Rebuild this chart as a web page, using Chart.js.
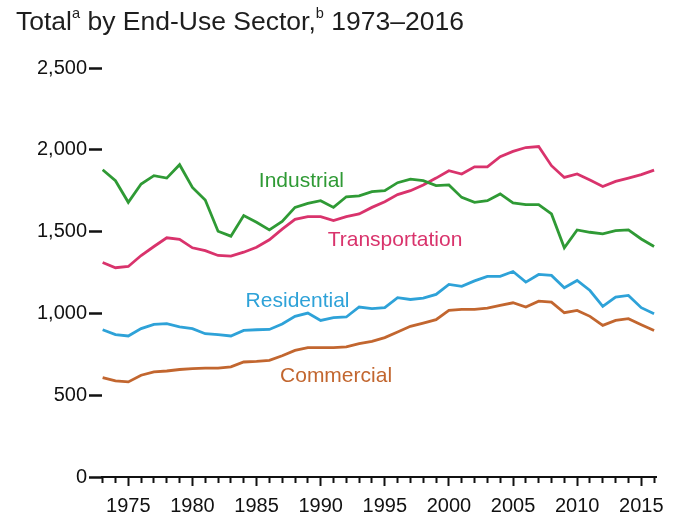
<!DOCTYPE html>
<html>
<head>
<meta charset="utf-8">
<script src="https://cdn.jsdelivr.net/npm/chart.js@4.4.1/dist/chart.umd.min.js"></script>
<style>
  html, body { margin: 0; padding: 0; background: #fff; }
  #wrap { position: relative; width: 674px; height: 520px; }
  #title {
    position: absolute; left: 16px; top: 5px;
    font: 26.5px "Liberation Sans", Arial, sans-serif; color: #1e1e1e;
    white-space: nowrap;
  }
  #title sup { font-size: 0.55em; vertical-align: 0.8em; }
  canvas { position: absolute; left: 0; top: 0; }
</style>
</head>
<body>
<div id="wrap">
  <canvas id="c" width="674" height="520"></canvas>
  <div id="title">Total<sup>a</sup> by End-Use Sector,<sup>b</sup> 1973–2016</div>
</div>
<script>
// years 1973-2016
const years = [];
for (let y = 1973; y <= 2016; y++) years.push(y);

const industrial = [1878, 1811, 1679, 1791, 1842, 1827, 1909, 1770, 1693, 1502, 1472, 1598, 1557, 1510, 1562,
  1648, 1673, 1689, 1648, 1713, 1718, 1744, 1750, 1799, 1821, 1811, 1781, 1785, 1709, 1679,
  1689, 1730, 1676, 1665, 1665, 1608, 1401, 1510, 1496, 1486, 1506, 1510, 1455, 1409];
const transportation = [1311, 1279, 1287, 1354, 1409, 1462, 1453, 1401, 1384, 1354, 1350, 1374, 1404, 1450, 1515,
  1575, 1592, 1592, 1567, 1592, 1608, 1648, 1683, 1726, 1750, 1785, 1827, 1872, 1852, 1896,
  1896, 1958, 1990, 2014, 2020, 1903, 1831, 1852, 1815, 1776, 1807, 1827, 1848, 1876];
const residential = [900, 870, 862, 907, 933, 937, 917, 907, 876, 870, 862, 896, 900, 902, 935,
  982, 1002, 957, 974, 978, 1039, 1029, 1035, 1096, 1085, 1093, 1116, 1177, 1165, 1199,
  1226, 1226, 1256, 1191, 1238, 1232, 1157, 1201, 1140, 1043, 1100, 1110, 1035, 998];
const commercial = [608, 587, 581, 622, 642, 648, 657, 663, 665, 666, 673, 703, 707, 713, 741,
  774, 791, 791, 791, 795, 815, 829, 852, 886, 921, 941, 962, 1018, 1024, 1024,
  1032, 1049, 1065, 1039, 1075, 1069, 1004, 1018, 982, 927, 957, 968, 931, 896];

const yTicks = [0, 500, 1000, 1500, 2000, 2500];

const FONT = '"Liberation Sans", Arial, sans-serif';
const colors = {
  Industrial: '#2f9a35',
  Transportation: '#d9336c',
  Residential: '#2ea2d8',
  Commercial: '#c2662f'
};

// where the series names sit, in data units (year, value)
const nameSpots = [
  ['Industrial', 1988.5, 1805],
  ['Transportation', 1995.8, 1445],
  ['Residential', 1988.2, 1073],
  ['Commercial', 1991.2, 616]
];

function series(name, vals) {
  return {
    label: name,
    data: years.map((y, i) => ({ x: y, y: vals[i] })),
    borderColor: colors[name],
    borderWidth: 2.8,
    pointRadius: 0,
    tension: 0,
    fill: false
  };
}

const seriesNames = {
  id: 'seriesNames',
  afterDatasetsDraw(chart) {
    const { ctx, scales } = chart;
    ctx.save();
    ctx.font = '21px ' + FONT;
    ctx.textAlign = 'center';
    ctx.textBaseline = 'middle';
    nameSpots.forEach(([name, yr, v]) => {
      ctx.fillStyle = colors[name];
      ctx.fillText(name, scales.x.getPixelForValue(yr), scales.y.getPixelForValue(v));
    });
    ctx.restore();
  }
};

new Chart(document.getElementById('c'), {
  type: 'line',
  data: {
    datasets: [
      series('Industrial', industrial),
      series('Transportation', transportation),
      series('Residential', residential),
      series('Commercial', commercial)
    ]
  },
  options: {
    responsive: false,
    animation: false,
    layout: { padding: { top: 68, right: 18, left: 0, bottom: 0 } },
    plugins: { legend: { display: false }, tooltip: { enabled: false } },
    scales: {
      x: {
        type: 'linear',
        min: 1972.95,
        max: 2016.15,
        afterFit(scale) { scale.height = 43; },
        border: { display: true, color: '#111', width: 2 },
        grid: {
          drawOnChartArea: false,
          drawTicks: true,
          tickLength: 9,
          tickColor: '#111',
          tickWidth: 2,
          tickBorderDash: ctx => (ctx.tick && ctx.tick.value % 5 === 0) ? [] : [5, 40]
        },
        ticks: {
          stepSize: 1,
          includeBounds: false,
          autoSkip: false,
          maxRotation: 0,
          padding: 8,
          color: '#111',
          font: { family: FONT, size: 20 },
          callback: v => (v % 5 === 0 ? String(v) : '')
        }
      },
      y: {
        min: 0,
        max: 2500,
        afterFit(scale) { scale.width = 102; },
        afterBuildTicks(scale) { scale.ticks = yTicks.map(v => ({ value: v })); },
        border: { display: false },
        grid: {
          drawOnChartArea: false,
          drawTicks: true,
          tickLength: 13,
          tickColor: '#111',
          tickWidth: 2.5
        },
        ticks: {
          padding: 2,
          color: '#111',
          font: { family: FONT, size: 20 },
          callback: v => v.toLocaleString('en-US')
        }
      }
    }
  },
  plugins: [seriesNames]
});
</script>
</body>
</html>
